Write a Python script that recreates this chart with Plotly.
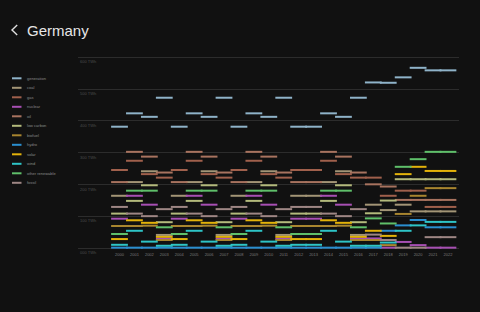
import plotly.graph_objects as go

# ---------------- data ----------------
years = list(range(2000, 2023))
year_labels = [str(y) for y in years]

generation = [382, 424, 413, 473, 382, 424, 413, 473, 382, 424, 413, 473, 382, 382, 424, 413, 473, 521, 520, 537, 567, 559, 559]
coal = [165, 208, 242, 42, 165, 208, 242, 42, 165, 208, 242, 42, 165, 165, 208, 242, 42, 137, 120, 137, 116, 116, 116]
gas = [246, 275, 233, 222, 246, 275, 233, 222, 246, 275, 233, 222, 246, 246, 275, 233, 222, 222, 165, 181, 181, 130, 130]
nuclear = [93, 165, 137, 30, 93, 165, 137, 30, 93, 165, 137, 30, 93, 93, 165, 137, 30, 31, 2, 20, 10, 2, 2]
oil = [208, 303, 288, 238, 208, 303, 288, 238, 208, 303, 288, 238, 208, 208, 303, 288, 238, 201, 194, 152, 152, 152, 152]
low_carbon = [109, 149, 198, 82, 109, 149, 198, 82, 109, 149, 198, 82, 109, 109, 149, 198, 82, 110, 150, 217, 217, 217, 217]
biofuel = [70, 70, 71, 26, 70, 70, 71, 26, 70, 70, 71, 26, 70, 70, 70, 71, 26, 26, 10, 108, 165, 189, 189]
hydro = [2, 2, 2, 2, 2, 2, 2, 2, 2, 2, 2, 2, 2, 2, 2, 2, 2, 2, 55, 72, 89, 66, 66]
solar = [29, 88, 80, 36, 29, 88, 80, 36, 29, 88, 80, 36, 29, 29, 88, 80, 36, 55, 39, 233, 256, 243, 243]
wind = [11, 55, 21, 8, 11, 55, 21, 8, 11, 55, 21, 8, 11, 11, 55, 21, 8, 8, 18, 55, 72, 83, 83]
other_renewable = [45, 181, 181, 66, 45, 181, 181, 66, 45, 181, 181, 66, 45, 45, 181, 181, 66, 94, 78, 256, 280, 303, 303]
fossil = [130, 109, 101, 123, 130, 109, 101, 123, 130, 109, 101, 123, 130, 130, 109, 101, 123, 43, 26, 2, 2, 35, 35]

series_names = ["generation", "coal", "gas", "nuclear", "oil", "low carbon", "biofuel",
                "hydro", "solar", "wind", "other renewable", "fossil"]
series_values = [generation, coal, gas, nuclear, oil, low_carbon, biofuel,
                 hydro, solar, wind, other_renewable, fossil]
series_colors = ["#8fb3c9", "#a39576", "#a0604c", "#a74fb3", "#a8735f", "#b3ba7c", "#a8852f",
                 "#2a8fd0", "#e3b20a", "#2ec4c6", "#5fbf6a", "#9e8684"]

y_tick_values = [0, 100, 200, 300, 400, 500, 600]
y_tick_labels = ["000 TWh", "100 TWh", "200 TWh", "300 TWh", "400 TWh", "500 TWh", "600 TWh"]

title_text = "Germany"

# ---------------- layout geometry ----------------
W, H = 480, 312
L, R, T, B = 78, 21, 50, 61
PW = W - L - R
PH = H - T - B
BG = "#111111"


def px(x):
    return (x - L) / PW


def py(y):
    return (H - B - y) / PH


# y scale: 0 at 248.3px, 600 at 57.3px
y0_px, y600_px = 248.3, 57.3
scale = (y0_px - y600_px) / 600.0
y_top = (y0_px - T) / scale
y_bot = (y0_px - (H - B)) / scale

# x scale: 2000 at 119.5px, 22 years over 328.5px
x_first_px, step = 119.5, 14.93
x_lo = years[0] - (x_first_px - L) / step
x_hi = years[0] + (L + PW - x_first_px) / step

fig = go.Figure()

for name, vals, col in zip(series_names, series_values, series_colors):
    fig.add_trace(go.Scatter(
        x=years, y=vals, mode="markers", name=name,
        marker=dict(symbol="line-ew", size=12, color=col, line=dict(color=col, width=2)),
        showlegend=False, hoverinfo="x+y+name",
    ))

shapes = []
annotations = []

# custom compact legend
for i, (name, col) in enumerate(zip(series_names, series_colors)):
    yy = 78.3 + 9.5 * i
    shapes.append(dict(type="line", xref="paper", yref="paper",
                       x0=px(12), x1=px(21.5), y0=py(yy), y1=py(yy),
                       line=dict(color=col, width=2)))
    annotations.append(dict(text=name, xref="paper", yref="paper", x=px(25), y=py(yy),
                            xanchor="left", yanchor="middle", showarrow=False,
                            font=dict(size=4, color="#8a8a8a", family="Liberation Sans, Arial")))

# y tick labels below grid lines
for v, lab in zip(y_tick_values, y_tick_labels):
    annotations.append(dict(text=lab, xref="paper", yref="y", x=px(78), y=v, yshift=-4.5,
                            xanchor="left", yanchor="middle", showarrow=False,
                            font=dict(size=4, color="#4d4d4d", family="Liberation Sans, Arial")))

# title with back chevron
annotations.append(dict(text=title_text, xref="paper", yref="paper", x=px(25), y=py(30),
                        xanchor="left", yanchor="middle", showarrow=False,
                        font=dict(size=15, color="#e6e6e6", family="Liberation Sans, Arial")))
shapes.append(dict(type="path", xref="paper", yref="paper",
                   path=f"M {px(17.2)},{py(25)} L {px(12)},{py(30)} L {px(17.2)},{py(35)}",
                   line=dict(color="#e0e0e0", width=1.4)))

fig.update_layout(
    width=W, height=H,
    margin=dict(l=L, r=R, t=T, b=B, pad=0),
    paper_bgcolor=BG, plot_bgcolor=BG,
    shapes=shapes, annotations=annotations,
    xaxis=dict(range=[x_lo, x_hi], tickmode="array", tickvals=years, ticktext=year_labels,
               tickfont=dict(size=4, color="#7a7a7a", family="Liberation Sans, Arial"),
               showgrid=False, zeroline=False, showline=False, ticks="", fixedrange=True),
    yaxis=dict(range=[y_bot, y_top], tickmode="array", tickvals=y_tick_values,
               showticklabels=False, showgrid=True, gridcolor="#2c2c2c", gridwidth=1,
               zeroline=False, showline=False, ticks="", fixedrange=True),
    showlegend=False,
)

fig.write_html("out.html")
